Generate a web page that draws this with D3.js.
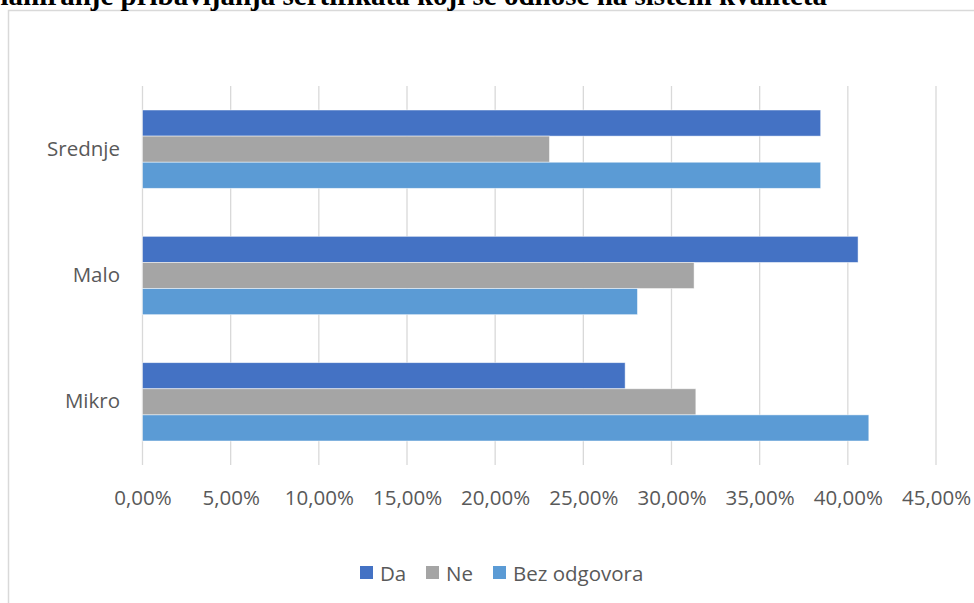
<!DOCTYPE html>
<html>
<head>
<meta charset="utf-8">
<script src="https://cdn.jsdelivr.net/npm/d3@7"></script>
<style>
  html, body { margin: 0; padding: 0; background: #fff; overflow: hidden; }
  svg { display: block; }
</style>
</head>
<body>
<svg id="chart" width="974" height="603"></svg>
<script>
const titleText = "Planiranje pribavljanja sertifikata koji se odnose na sistem kvaliteta";
const categories = ["Srednje", "Malo", "Mikro"];
const seriesNames = ["Da", "Ne", "Bez odgovora"];
const seriesColors = ["#4472C4", "#A5A5A5", "#5B9BD5"];
const valuesDa = [0.3846, 0.4058, 0.2737];
const valuesNe = [0.2308, 0.3128, 0.3138];
const valuesBez = [0.3846, 0.2807, 0.4119];
const tickValues = [0, 0.05, 0.10, 0.15, 0.20, 0.25, 0.30, 0.35, 0.40, 0.45];

const seriesValues = [valuesDa, valuesNe, valuesBez];
const rows = [];
categories.forEach((c, ci) => {
  seriesNames.forEach((s, si) => {
    rows.push({ category: c, series: s, value: seriesValues[si][ci], color: seriesColors[si] });
  });
});

const svg = d3.select("#chart");
const font = "'Open Sans', 'Liberation Sans', sans-serif";
const textColor = "#595959";
const fs = 20.5;

// Chart frame (extends past the viewport)
svg.append("rect")
  .attr("x", 8.5).attr("y", 10.5)
  .attr("width", 1100).attr("height", 700)
  .attr("fill", "none").attr("stroke", "#d9d9d9").attr("stroke-width", 1.5);

// Title (cut off at top, as in the reference)
svg.append("text")
  .attr("x", 827).attr("y", 5)
  .attr("text-anchor", "end")
  .attr("font-family", "'Liberation Serif', 'Times New Roman', serif")
  .attr("font-weight", "bold")
  .attr("font-size", 29)
  .attr("fill", "#000")
  .text(titleText);

const plotTop = 86, plotBottom = 465;
const x = d3.scaleLinear().domain([0, 0.45]).range([142.5, 936]);
const y = d3.scaleBand().domain(categories).range([plotTop, plotBottom])
  .paddingInner(0.38).paddingOuter(0.19);
const ySub = d3.scaleBand().domain(seriesNames).range([0, y.bandwidth()]).padding(0);

// Gridlines
svg.append("g")
  .selectAll("line")
  .data(tickValues)
  .join("line")
  .attr("x1", d => x(d)).attr("x2", d => x(d))
  .attr("y1", plotTop).attr("y2", plotBottom)
  .attr("stroke", "#d9d9d9").attr("stroke-width", 1.3);

// X axis tick labels
const fmt = d => (d * 100).toFixed(2).replace(".", ",") + "%";
const xAxis = d3.axisBottom(x).tickValues(tickValues).tickFormat(fmt).tickSize(0).tickPadding(0);
const gx = svg.append("g").attr("transform", `translate(0, ${plotBottom + 25})`).call(xAxis);
gx.select(".domain").remove();
gx.selectAll("text")
  .attr("font-family", font).attr("font-size", fs).attr("fill", textColor);

// Y axis labels
const yAxis = d3.axisLeft(y).tickSize(0).tickPadding(0);
const gy = svg.append("g").attr("transform", `translate(120, 0)`).call(yAxis);
gy.select(".domain").remove();
gy.selectAll("text")
  .attr("font-family", font).attr("font-size", fs).attr("fill", textColor);

// Bars
svg.append("g")
  .selectAll("rect")
  .data(rows)
  .join("rect")
  .attr("x", x(0))
  .attr("y", d => y(d.category) + ySub(d.series))
  .attr("width", d => x(d.value) - x(0))
  .attr("height", ySub.bandwidth())
  .attr("fill", d => d.color)
  .attr("stroke", "#ffffff").attr("stroke-opacity", 0.6).attr("stroke-width", 0.8);

// Legend
const legendItems = [
  { name: seriesNames[0], color: seriesColors[0], x: 360 },
  { name: seriesNames[1], color: seriesColors[1], x: 426 },
  { name: seriesNames[2], color: seriesColors[2], x: 493 }
];
const lg = svg.append("g");
legendItems.forEach(it => {
  lg.append("rect").attr("x", it.x).attr("y", 566).attr("width", 13).attr("height", 13).attr("fill", it.color);
  lg.append("text").attr("x", it.x + 20).attr("y", 572.5)
    .attr("dominant-baseline", "central")
    .attr("font-family", font).attr("font-size", fs).attr("fill", textColor)
    .text(it.name);
});
</script>
</body>
</html>
